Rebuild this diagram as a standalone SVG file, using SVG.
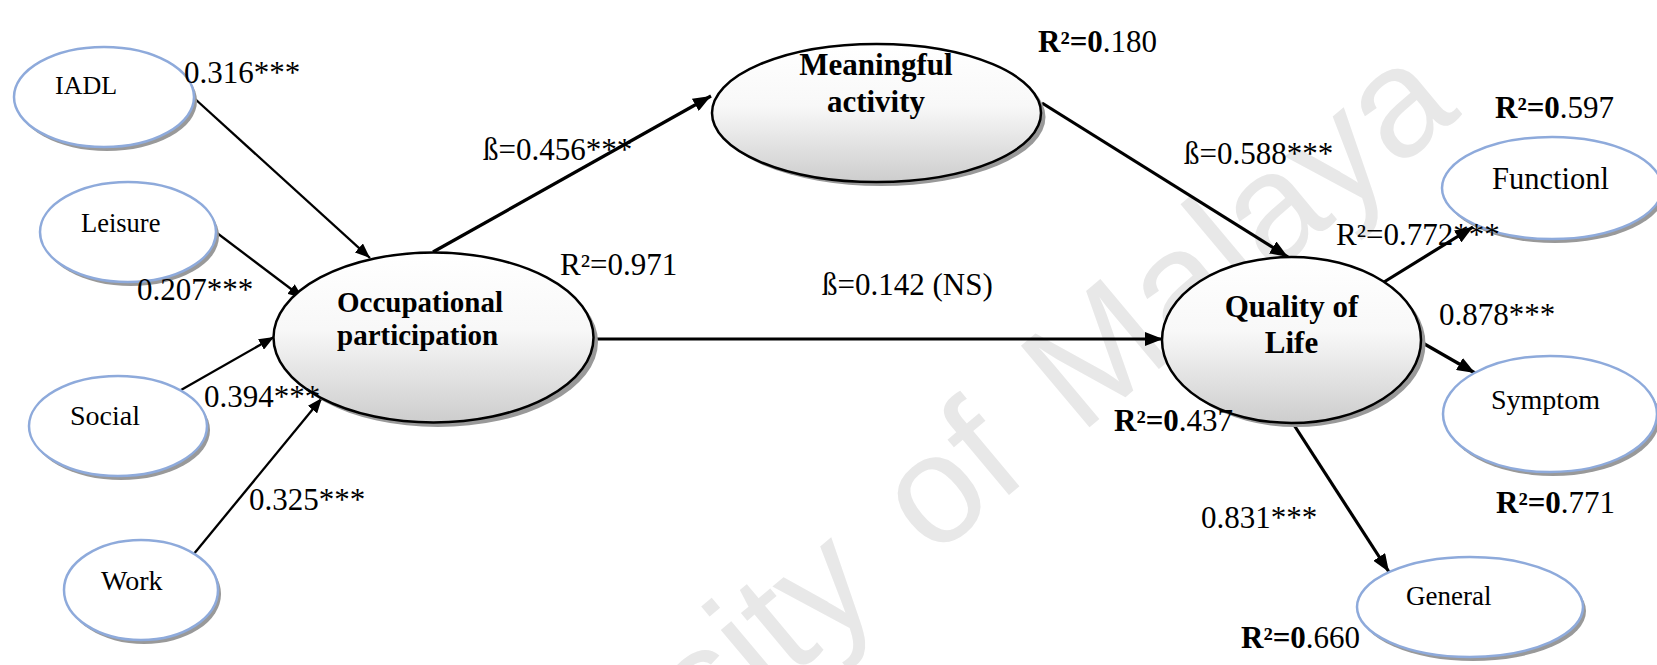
<svg xmlns="http://www.w3.org/2000/svg" width="1657" height="665" viewBox="0 0 1657 665">
  <defs>
    <style>
      .ind { fill: #ffffff; stroke: #8eaadb; stroke-width: 2.5; }
      .con { fill: url(#conFill); stroke: #000000; stroke-width: 2.5; }
      .shd { fill: #999999; }
      .serif { font-family: "Liberation Serif", "Times New Roman", serif; fill: #000000; }
      .lbl { font-size: 31px; }
      .nt { font-size: 28px; }
      .bold { font-weight: bold; }
      .thin { stroke: #000000; stroke-width: 2.3; fill: none; marker-end: url(#headThin); }
      .thick { stroke: #000000; stroke-width: 3.2; fill: none; marker-end: url(#headThick); }
      .wm { font-family: "Liberation Sans", Arial, sans-serif; font-size: 155px; word-spacing: 20px; fill: #e8e8e8; }
    </style>
    <linearGradient id="conFill" x1="0" y1="0" x2="0" y2="1">
      <stop offset="0" stop-color="#ffffff"/>
      <stop offset="0.45" stop-color="#f8f8f8"/>
      <stop offset="1" stop-color="#cdcdcd"/>
    </linearGradient>
    <marker id="headThin" markerUnits="userSpaceOnUse" markerWidth="16" markerHeight="12" refX="15" refY="6" orient="auto">
      <path d="M0,0 L15,6 L0,12 z" fill="#000000"/>
    </marker>
    <marker id="headThick" markerUnits="userSpaceOnUse" markerWidth="19" markerHeight="14" refX="18" refY="7" orient="auto">
      <path d="M0,0 L18,7 L0,14 z" fill="#000000"/>
    </marker>
  </defs>

  <rect width="1657" height="665" fill="#ffffff"/>

  <!-- background watermark -->
  <text class="wm" transform="translate(363,1037) rotate(-40)">University of Malaya</text>

  <!-- connectors -->
  <g id="connectors">
    <line class="thin" x1="194" y1="98" x2="370" y2="258"/>
    <line class="thin" x1="217" y1="233" x2="303" y2="298"/>
    <line class="thin" x1="181" y1="390" x2="274" y2="337"/>
    <line class="thin" x1="193" y1="555" x2="322" y2="398"/>
    <line class="thick" x1="433" y1="252" x2="711" y2="96"/>
    <line class="thick" x1="593" y1="339" x2="1163" y2="339"/>
    <line class="thick" x1="1042" y1="103" x2="1288" y2="257"/>
    <line class="thick" x1="1384" y1="282" x2="1473" y2="227"/>
    <line class="thick" x1="1421" y1="342" x2="1475" y2="373"/>
    <line class="thick" x1="1294" y1="425" x2="1389" y2="572"/>
  </g>

  <!-- indicator nodes -->
  <g id="iadl">
    <ellipse class="shd" cx="107" cy="101" rx="90" ry="50"/>
    <ellipse class="ind" cx="104" cy="97" rx="90" ry="50"/>
    <text class="serif" x="55" y="94" font-size="26">IADL</text>
  </g>
  <g id="leisure">
    <ellipse class="shd" cx="131" cy="236" rx="88" ry="50"/>
    <ellipse class="ind" cx="128" cy="232" rx="88" ry="50"/>
    <text class="serif" x="81" y="232" font-size="26.5">Leisure</text>
  </g>
  <g id="social">
    <ellipse class="shd" cx="121" cy="430" rx="89" ry="50"/>
    <ellipse class="ind" cx="118" cy="426" rx="89" ry="50"/>
    <text class="serif nt" x="70" y="425">Social</text>
  </g>
  <g id="work">
    <ellipse class="shd" cx="144" cy="594" rx="77" ry="50"/>
    <ellipse class="ind" cx="141" cy="590" rx="77" ry="50"/>
    <text class="serif nt" x="101" y="590">Work</text>
  </g>
  <g id="functionl">
    <ellipse class="shd" cx="1555" cy="192" rx="110" ry="51"/>
    <ellipse class="ind" cx="1552" cy="188" rx="110" ry="51"/>
    <text class="serif" x="1492" y="189" font-size="30.5">Functionl</text>
  </g>
  <g id="symptom">
    <ellipse class="shd" cx="1553" cy="418" rx="107" ry="58"/>
    <ellipse class="ind" cx="1550" cy="414" rx="107" ry="58"/>
    <text class="serif nt" x="1491" y="409">Symptom</text>
  </g>
  <g id="general">
    <ellipse class="shd" cx="1473" cy="611" rx="113" ry="50"/>
    <ellipse class="ind" cx="1470" cy="607" rx="113" ry="50"/>
    <text class="serif" x="1406" y="605" font-size="27">General</text>
  </g>

  <!-- construct nodes -->
  <g id="occupational-participation">
    <ellipse class="shd" cx="438" cy="342" rx="160" ry="85"/>
    <ellipse class="con" cx="433.5" cy="337.5" rx="160" ry="85"/>
    <text class="serif bold" x="337" y="312" font-size="29">Occupational</text>
    <text class="serif bold" x="337" y="345" font-size="29">participation</text>
  </g>
  <g id="meaningful-activity">
    <ellipse class="shd" cx="881" cy="117" rx="164.5" ry="69"/>
    <ellipse class="con" cx="876.5" cy="113" rx="164.5" ry="69"/>
    <text class="serif bold" x="876" y="75" font-size="31" text-anchor="middle">Meaningful</text>
    <text class="serif bold" x="876" y="112" font-size="31" text-anchor="middle">activity</text>
  </g>
  <g id="quality-of-life">
    <ellipse class="shd" cx="1296" cy="344" rx="129.5" ry="83"/>
    <ellipse class="con" cx="1291.5" cy="340" rx="129.5" ry="83"/>
    <text class="serif bold" x="1291.5" y="317" font-size="31" text-anchor="middle">Quality of</text>
    <text class="serif bold" x="1291.5" y="353" font-size="31" text-anchor="middle">Life</text>
  </g>

  <!-- path coefficients and R² values -->
  <g id="labels" class="serif lbl">
    <text x="184" y="83">0.316***</text>
    <text x="137" y="300">0.207***</text>
    <text x="204" y="407">0.394***</text>
    <text x="249" y="510">0.325***</text>
    <text x="483" y="160">ß=0.456***</text>
    <text x="560" y="275">R²=0.971</text>
    <text x="822" y="295">ß=0.142 (NS)</text>
    <text x="1038" y="52"><tspan class="bold">R²=0</tspan>.180</text>
    <text x="1184" y="164">ß=0.588***</text>
    <text x="1495" y="118"><tspan class="bold">R²=0</tspan>.597</text>
    <text x="1336" y="245">R²=0.772***</text>
    <text x="1439" y="325">0.878***</text>
    <text x="1496" y="513"><tspan class="bold">R²=0</tspan>.771</text>
    <text x="1201" y="528">0.831***</text>
    <text x="1114" y="431"><tspan class="bold">R²=0</tspan>.437</text>
    <text x="1241" y="648"><tspan class="bold">R²=0</tspan>.660</text>
  </g>
</svg>
